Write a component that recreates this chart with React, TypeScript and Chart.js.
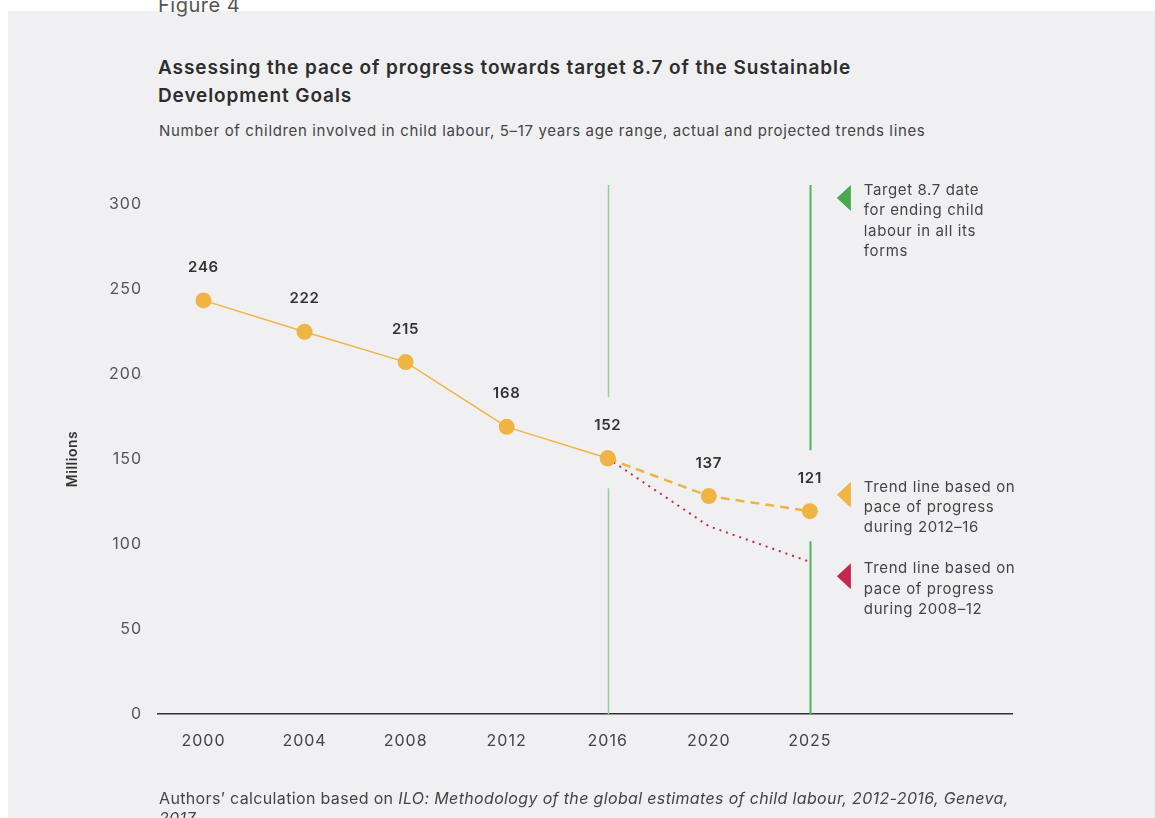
import React, { useEffect, useRef } from 'react';
import { Chart, registerables } from 'chart.js';

Chart.register(...registerables);

// ---- data ----
const years = ['2000', '2004', '2008', '2012', '2016', '2020', '2025'];
const actualValues = [243.3, 224.8, 207.0, 168.9, 150.4];
const trend1216Values = [150.4, 128.2, 119.3];
const trend0812Values = [150.4, 110.5, 89.5];
const valueLabels = ['246', '222', '215', '168', '152', '137', '121'];
const yTicks = [0, 50, 100, 150, 200, 250, 300];
const noteTarget = ['Target 8.7 date', 'for ending child', 'labour in all its', 'forms'];
const note1216 = ['Trend line based on', 'pace of progress', 'during 2012–16'];
const note0812 = ['Trend line based on', 'pace of progress', 'during 2008–12'];

const FONT = 'Inter, "Open Sans", sans-serif';
const YELLOW = '#efb443';
const RED = '#c2274f';
const GREEN = '#4aa84e';

const trendStart = actualValues.length - 1;
const plottedValues = [...actualValues, ...trend1216Values.slice(1)];

const spacing = {
  id: 'spacing',
  beforeDraw(chart: any) {
    chart.ctx.letterSpacing = '1px';
  },
  afterDraw(chart: any) {
    chart.ctx.letterSpacing = '0px';
  },
};

const overlay = {
  id: 'overlay',
  beforeDatasetsDraw(chart: any) {
    const { ctx, chartArea, scales } = chart;
    const x = scales.x;
    const y = scales.y;
    const guides = [
      { idx: 4, color: '#93d093', width: 1.5 },
      { idx: 6, color: '#52b455', width: 2 },
    ];
    ctx.save();
    for (const g of guides) {
      const px = Math.round(x.getPixelForValue(g.idx)) + 0.5;
      const py = y.getPixelForValue(plottedValues[g.idx]);
      const top = chartArea.top - 19;
      const gapTop = py - 61;
      const gapBottom = py + 30;
      ctx.strokeStyle = g.color;
      ctx.lineWidth = g.width;
      ctx.beginPath();
      ctx.moveTo(px, top);
      ctx.lineTo(px, gapTop);
      ctx.moveTo(px, gapBottom);
      ctx.lineTo(px, chartArea.bottom);
      ctx.stroke();
    }
    ctx.restore();
  },
  afterDatasetsDraw(chart: any) {
    const { ctx, chartArea, scales } = chart;
    const x = scales.x;
    const y = scales.y;
    ctx.save();
    // value labels
    ctx.letterSpacing = '0.7px';
    ctx.font = `600 15px ${FONT}`;
    ctx.fillStyle = '#333333';
    ctx.textAlign = 'center';
    ctx.textBaseline = 'middle';
    plottedValues.forEach((v, i) => {
      ctx.fillText(valueLabels[i], x.getPixelForValue(i), y.getPixelForValue(v) - 33);
    });
    // y axis title
    ctx.save();
    ctx.translate(73, (chartArea.top + chartArea.bottom) / 2);
    ctx.rotate(-Math.PI / 2);
    ctx.letterSpacing = '0.5px';
    ctx.font = `600 14px ${FONT}`;
    ctx.fillStyle = '#333333';
    ctx.fillText('Millions', 0, 0);
    ctx.restore();
    // notes on the right
    const tipX = x.getPixelForValue(6) + 27;
    const notes = [
      { lines: noteTarget, color: GREEN, cy: chartArea.top - 6 },
      { lines: note1216, color: YELLOW, cy: y.getPixelForValue(129) },
      { lines: note0812, color: RED, cy: y.getPixelForValue(81) },
    ];
    ctx.letterSpacing = '0.6px';
    ctx.font = `15px ${FONT}`;
    ctx.textAlign = 'left';
    for (const n of notes) {
      ctx.fillStyle = n.color;
      ctx.beginPath();
      ctx.moveTo(tipX, n.cy);
      ctx.lineTo(tipX + 14, n.cy - 13);
      ctx.lineTo(tipX + 14, n.cy + 13);
      ctx.closePath();
      ctx.fill();
      ctx.fillStyle = '#444444';
      n.lines.forEach((t, k) => {
        ctx.fillText(t, tipX + 27, n.cy - 7.5 + k * 20.3);
      });
    }
    ctx.restore();
  },
};

export default function App() {
  const ref = useRef<HTMLCanvasElement | null>(null);

  useEffect(() => {
    if (!ref.current) return;
    const chart = new Chart(ref.current, {
      type: 'line',
      data: {
        datasets: [
          {
            label: 'Actual',
            data: actualValues.map((v, i) => ({ x: i, y: v })),
            borderColor: YELLOW,
            borderWidth: 1.5,
            pointRadius: 8,
            pointBackgroundColor: YELLOW,
            pointBorderWidth: 0,
            pointHoverRadius: 8,
          },
          {
            label: 'Trend 2012–16',
            data: trend1216Values.map((v, i) => ({ x: trendStart + i, y: v })),
            borderColor: YELLOW,
            borderWidth: 2.5,
            borderDash: [9, 6],
            pointRadius: 8,
            pointBackgroundColor: YELLOW,
            pointBorderWidth: 0,
          },
          {
            label: 'Trend 2008–12',
            data: trend0812Values.map((v, i) => ({ x: trendStart + i, y: v })),
            borderColor: RED,
            borderWidth: 2,
            borderDash: [2, 5],
            pointRadius: 0,
          },
        ],
      },
      options: {
        animation: false,
        responsive: false,
        events: [],
        layout: { padding: { top: 204, right: 143, bottom: 0, left: 0 } },
        plugins: { legend: { display: false }, tooltip: { enabled: false }, title: { display: false } },
        scales: {
          x: {
            type: 'linear',
            min: -0.45,
            max: 8,
            grid: { display: false, drawTicks: false },
            border: { display: true, color: '#333333', width: 1.5 },
            afterBuildTicks: (s: any) => {
              s.ticks = years.map((_, i) => ({ value: i }));
            },
            afterFit: (s: any) => {
              s.height = 104;
            },
            ticks: {
              autoSkip: false,
              maxRotation: 0,
              padding: 18,
              color: '#444444',
              font: { family: FONT, size: 16 },
              callback: (v: any) => years[v] ?? '',
            },
          },
          y: {
            type: 'linear',
            min: 0,
            max: 300,
            grid: { display: false, drawTicks: false },
            border: { display: false },
            afterBuildTicks: (s: any) => {
              s.ticks = yTicks.map((v) => ({ value: v }));
            },
            afterFit: (s: any) => {
              s.width = 158;
            },
            ticks: {
              padding: 16,
              color: '#555555',
              font: { family: FONT, size: 16 },
            },
          },
        },
      },
      plugins: [spacing, overlay],
    } as any);
    return () => chart.destroy();
  }, []);

  return (
    <div
      style={{
        position: 'fixed',
        left: 0,
        top: 0,
        width: 1155,
        height: 818,
        overflow: 'hidden',
        background: '#ffffff',
        fontFamily: FONT,
      }}
    >
      <div style={{ position: 'absolute', left: 8, top: 11, width: 1147, height: 807, background: '#f0f0f2' }} />
      <div
        style={{
          position: 'absolute',
          left: 158,
          top: -7,
          fontSize: 20,
          letterSpacing: 0.5,
          lineHeight: '24px',
          color: '#555555',
        }}
      >
        Figure 4
      </div>
      <div
        style={{
          position: 'absolute',
          left: 158,
          top: 54,
          width: 740,
          fontSize: 19,
          letterSpacing: 0.9,
          lineHeight: '28px',
          fontWeight: 600,
          color: '#2d2d2d',
        }}
      >
        Assessing the pace of progress towards target 8.7 of the Sustainable Development Goals
      </div>
      <div
        style={{
          position: 'absolute',
          left: 159,
          top: 121,
          fontSize: 15,
          letterSpacing: 0.65,
          lineHeight: '20px',
          color: '#444444',
          whiteSpace: 'nowrap',
        }}
      >
        Number of children involved in child labour, 5–17 years age range, actual and projected trends lines
      </div>
      <canvas ref={ref} width={1155} height={818} style={{ position: 'absolute', left: 0, top: 0 }} />
      <div
        style={{
          position: 'absolute',
          left: 159,
          top: 788,
          width: 860,
          fontSize: 16,
          letterSpacing: 0.35,
          lineHeight: '20px',
          color: '#444444',
        }}
      >
        Authors’ calculation based on{' '}
        <i>ILO: Methodology of the global estimates of child labour, 2012-2016, Geneva, 2017</i>
      </div>
    </div>
  );
}
